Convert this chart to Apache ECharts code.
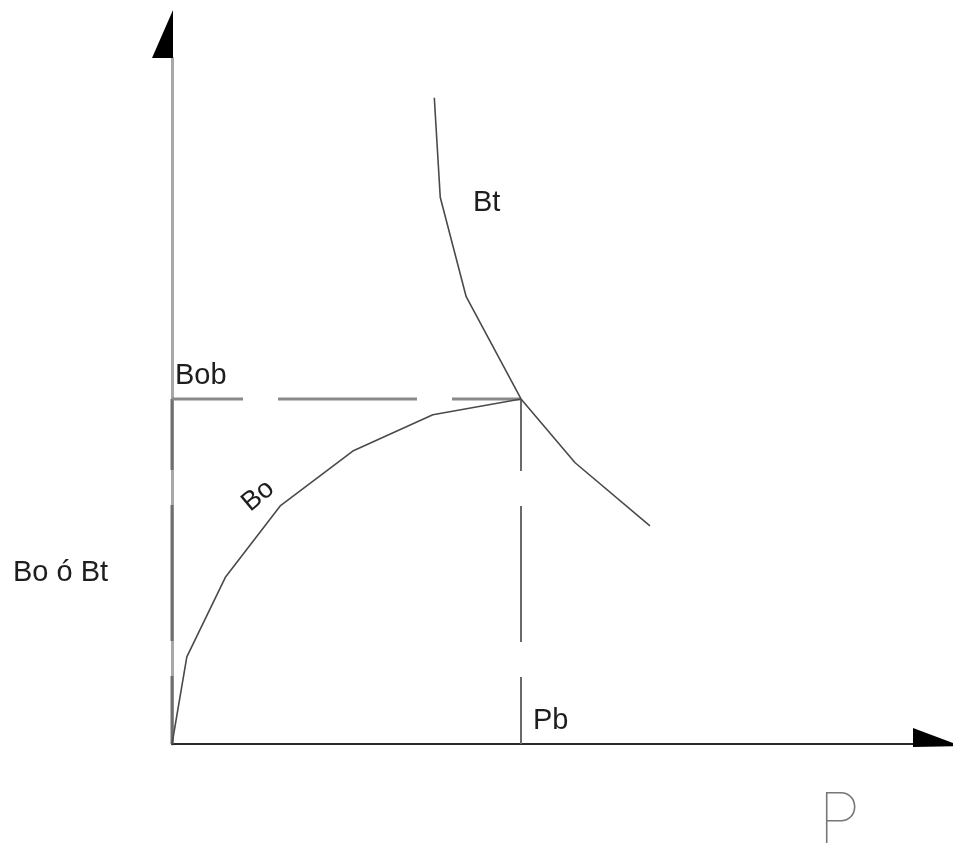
<!DOCTYPE html>
<html>
<head>
<meta charset="utf-8">
<script src="https://cdn.jsdelivr.net/npm/echarts@6/dist/echarts.min.js"></script>
<style>
html,body{margin:0;padding:0;background:#fff;}
#chart{width:953px;height:844px;}
</style>
</head>
<body>
<div id="chart"></div>
<script>
// Pressure (arbitrary units) and formation volume factor values
const btPressure = [3.54, 3.62, 3.97, 4.71, 5.44, 6.45];
const btValues   = [9.42, 7.97, 6.52, 5.03, 4.10, 3.18];
const boPressure = [0, 0.20, 0.72, 1.46, 2.44, 3.52, 4.71];
const boValues   = [0, 1.27, 2.43, 3.47, 4.27, 4.80, 5.03];
const bubblePressure = 4.71; // Pb
const bubbleBo = 5.03;       // Bob
const axisMax = 10;
const labels = {bt: 'Bt', bo: 'Bo', bob: 'Bob', pb: 'Pb', yName: 'Bo ó Bt', xName: 'P'};

const chart = echarts.init(document.getElementById('chart'), null, {renderer: 'canvas'});
const pair = (xs, ys) => xs.map((x, i) => [x, ys[i]]);
const font = 'Liberation Sans, Arial, sans-serif';

const option = {
  animation: false,
  backgroundColor: '#ffffff',
  grid: {left: 172, top: 58, right: 40, bottom: 100},
  xAxis: {
    type: 'value', min: 0, max: axisMax,
    axisLine: {show: true, onZero: false, lineStyle: {color: '#2a2a2a', width: 2}},
    axisTick: {show: false}, axisLabel: {show: false}, splitLine: {show: false}
  },
  yAxis: {
    type: 'value', min: 0, max: axisMax,
    axisLine: {show: true, onZero: false, lineStyle: {color: '#a8a8a8', width: 3}},
    axisTick: {show: false}, axisLabel: {show: false}, splitLine: {show: false}
  },
  series: [
    {
      type: 'line', name: 'guideY0', data: [[0, bubbleBo], [0, 0]],
      symbol: 'none', silent: true, z: 3,
      lineStyle: {color: '#6e6e6e', width: 3, type: [136, 35], dashOffset: 65}
    },
    {
      type: 'line', name: 'guideH', data: [[0, bubbleBo], [bubblePressure, bubbleBo]],
      symbol: 'none', silent: true, z: 3,
      lineStyle: {color: '#8a8a8a', width: 3, type: [139, 35], dashOffset: 68}
    },
    {
      type: 'line', name: 'guideV', data: [[bubblePressure, bubbleBo], [bubblePressure, 0]],
      symbol: 'none', silent: true, z: 3,
      lineStyle: {color: '#6a6a6a', width: 2, type: [136, 35], dashOffset: 64}
    },
    {
      type: 'line', name: 'Bt', data: pair(btPressure, btValues),
      symbol: 'none', smooth: false, z: 4,
      lineStyle: {color: '#4a4a4a', width: 1.6}
    },
    {
      type: 'line', name: 'Bo', data: pair(boPressure, boValues),
      symbol: 'none', smooth: false, z: 4,
      lineStyle: {color: '#4a4a4a', width: 1.6}
    },
    {
      type: 'custom', name: 'arrows', silent: true, z: 5,
      data: [[axisMax, 0, 0], [0, axisMax, 1]],
      renderItem: function (params, api) {
        const p = api.coord([api.value(0), api.value(1)]);
        const kind = api.value(2);
        let pts;
        if (kind === 0) {
          pts = [[p[0], p[1] - 16], [p[0], p[1] + 3], [p[0] + 48, p[1] + 2]];
        } else {
          pts = [[p[0] + 1, p[1]], [p[0] - 20, p[1]], [p[0] + 1, p[1] - 48]];
        }
        return {type: 'polygon', shape: {points: pts}, style: {fill: '#000'}};
      }
    }
  ],
  graphic: [
    {type: 'text', x: 175, y: 376, style: {text: labels.bob, font: '29px ' + font, fill: '#1e1e1e', verticalAlign: 'middle', align: 'left'}},
    {type: 'text', x: 473, y: 203, style: {text: labels.bt, font: '29px ' + font, fill: '#1e1e1e', verticalAlign: 'middle', align: 'left'}},
    {type: 'text', x: 533, y: 721, style: {text: labels.pb, font: '29px ' + font, fill: '#1e1e1e', verticalAlign: 'middle', align: 'left'}},
    {type: 'text', x: 13, y: 573, style: {text: labels.yName, font: '29px ' + font, fill: '#1e1e1e', verticalAlign: 'middle', align: 'left'}},
    {type: 'text', x: 258, y: 496, rotation: 40 * Math.PI / 180,
      style: {text: labels.bo, font: '27px ' + font, fill: '#1e1e1e', verticalAlign: 'middle', align: 'center'}},
    {type: 'text', x: 818, y: 822, style: {text: labels.xName, font: '100 70px Inter, "DejaVu Sans", sans-serif', fill: '#777', verticalAlign: 'middle', align: 'left'}}
  ]
};
chart.setOption(option);
</script>
</body>
</html>
